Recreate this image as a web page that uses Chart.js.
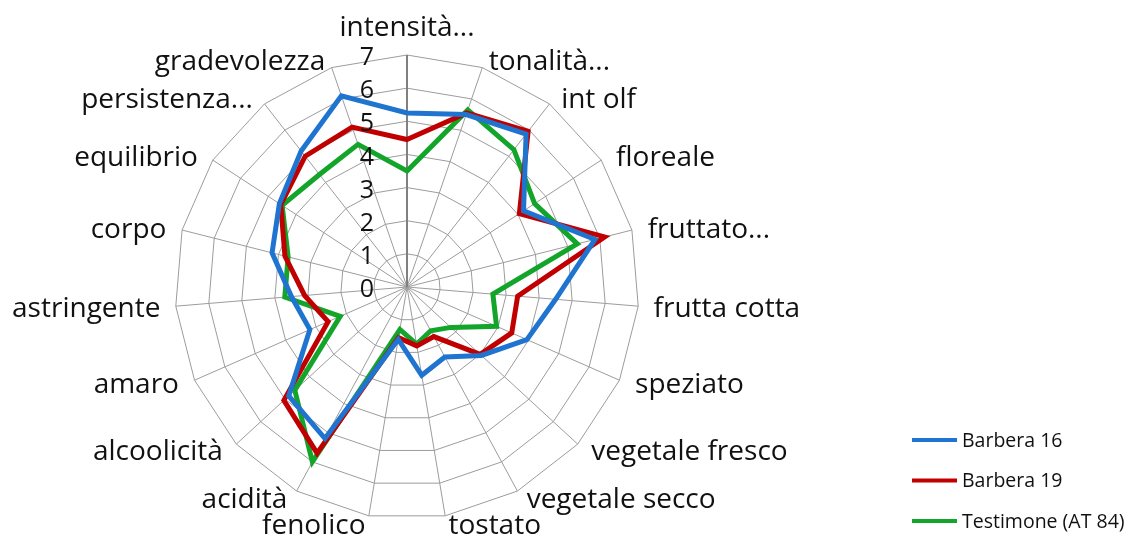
<!DOCTYPE html>
<html>
<head>
<meta charset="utf-8">
<script src="https://cdn.jsdelivr.net/npm/chart.js@4.4.1/dist/chart.umd.min.js"></script>
<style>
  html, body { margin: 0; padding: 0; background: #ffffff; }
  canvas { display: block; }
</style>
</head>
<body>
<canvas id="radar" width="1128" height="536"></canvas>
<script>
// Descrittori (in senso orario a partire dall'alto)
const categories = [
  'intensità...', 'tonalità...', 'int olf', 'floreale', 'fruttato...',
  'frutta cotta', 'speziato', 'vegetale fresco', 'vegetale secco', 'tostato',
  'fenolico', 'acidità', 'alcoolicità', 'amaro', 'astringente',
  'corpo', 'equilibrio', 'persistenza...', 'gradevolezza'
];

// Punteggi medi
const barbera16 = [5.25, 5.5, 5.85, 4.2, 5.85, 4.5, 3.95, 3.05, 2.4, 2.7,
                   1.6, 5.2, 4.85, 3.2, 3.5, 4.2, 4.6, 5.2, 6.1];
const barbera19 = [4.45, 5.55, 5.95, 4.05, 6.15, 3.35, 3.45, 3.0, 1.7, 1.8,
                   1.55, 5.7, 5.05, 2.6, 3.1, 3.8, 4.55, 5.0, 5.1];
const testimone = [3.5, 5.65, 5.25, 4.6, 5.3, 2.6, 2.95, 1.8, 1.5, 1.75,
                   1.3, 6.0, 4.6, 2.2, 3.7, 3.7, 4.5, 4.3, 4.55];

const seriesNames = ['Barbera 16', 'Barbera 19', 'Testimone (AT 84)'];
const tickValues = [0, 1, 2, 3, 4, 5, 6, 7];

const colors = ['#1f74d0', '#c00000', '#12a52a'];
const FONT = '"Open Sans", "DejaVu Sans", sans-serif';

// Etichette stile Excel: scala a sinistra dell'asse, categorie e legenda
const excelLabels = {
  id: 'excelLabels',
  afterDraw(chart) {
    const scale = chart.scales.r;
    const ctx = chart.ctx;
    ctx.save();
    ctx.fillStyle = '#111111';
    ctx.textBaseline = 'middle';

    // 1. valori della scala
    ctx.font = '25px ' + FONT;
    ctx.textAlign = 'right';
    scale.ticks.forEach(t => {
      const d = scale.getDistanceFromCenterForValue(t.value);
      ctx.fillText(t.label, scale.xCenter - 33, scale.yCenter - d + 3);
    });

    // 2. nomi delle categorie
    ctx.font = '28px ' + FONT;
    chart.data.labels.forEach((label, i) => {
      const p = scale.getPointPosition(i, scale.drawingArea);
      const a = scale.getIndexAngle(i);
      const s = Math.sin(a), c = Math.cos(a);
      let x, y;
      if (Math.abs(s) < 0.05) {
        ctx.textAlign = 'center';
        x = p.x;
        y = p.y - 27 * c;
      } else {
        ctx.textAlign = s > 0 ? 'left' : 'right';
        x = p.x + s * (15 + 5 * Math.abs(c));
        y = p.y - 8 * c + 2;
      }
      ctx.fillText(label, x, y);
    });

    // 3. legenda in basso a destra
    ctx.font = '19.5px ' + FONT;
    ctx.textAlign = 'left';
    chart.data.datasets.forEach((ds, i) => {
      const y = 440 + i * 40.5;
      ctx.strokeStyle = ds.borderColor;
      ctx.lineWidth = 4;
      ctx.beginPath();
      ctx.moveTo(912, y);
      ctx.lineTo(957, y);
      ctx.stroke();
      ctx.fillText(ds.label, 962, y + 1);
    });
    ctx.restore();
  }
};

const series = [barbera16, barbera19, testimone];

new Chart(document.getElementById('radar'), {
  type: 'radar',
  data: {
    labels: categories,
    datasets: series.map((values, i) => ({
      label: seriesNames[i],
      data: values,
      borderColor: colors[i],
      backgroundColor: 'transparent',
      borderWidth: 5,
      pointRadius: 0,
      pointHoverRadius: 0,
      fill: false,
      tension: 0
    }))
  },
  options: {
    responsive: false,
    animation: false,
    devicePixelRatio: 1,
    layout: { padding: { left: 175, right: 489, top: 55, bottom: 17 } },
    plugins: {
      legend: { display: false },
      tooltip: { enabled: false }
    },
    scales: {
      r: {
        min: tickValues[0],
        max: tickValues[tickValues.length - 1],
        ticks: { stepSize: 1, display: false },
        grid: { circular: false, color: '#9c9c9c', lineWidth: 1 },
        angleLines: {
          color: ctx => ctx.index === 0 ? '#808080' : '#9c9c9c',
          lineWidth: ctx => ctx.index === 0 ? 2 : 1
        },
        pointLabels: { display: false }
      }
    }
  },
  plugins: [excelLabels]
});
</script>
</body>
</html>
